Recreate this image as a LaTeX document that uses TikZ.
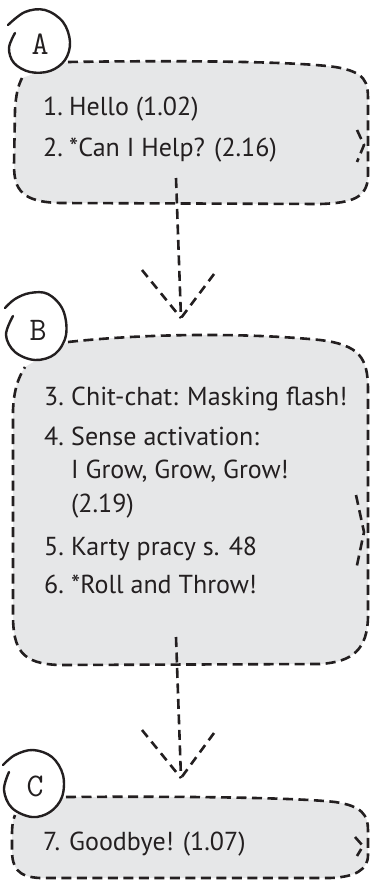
\documentclass[tikz,border=0pt]{standalone}
\usepackage{fontspec}
\setmainfont{PT Sans}
\definecolor{ink}{HTML}{231F20}
\definecolor{boxgray}{HTML}{E6E7E8}
\begin{document}
\begin{tikzpicture}[x=1pt,y=-1pt,
  outline/.style={draw=ink, line width=2.6pt, dash pattern=on 10pt off 5.5pt, line cap=butt},
  boxfill/.style={fill=boxgray},
  tagring/.style={draw=ink, line width=2.4pt, line cap=round, fill=white},
  itemtext/.style={anchor=base west, inner sep=0pt, text=ink, font=\fontsize{26}{33.5}\selectfont, align=left},
  lettertext/.style={text=ink, font=\ttfamily\fontsize{33}{33}\selectfont, inner sep=0pt},
  arm/.style={draw=ink, line width=2.6pt, dash pattern=on 9pt off 6pt}
]
\useasboundingbox (0,0) rectangle (372,880);

% ---------- Box A ----------
\fill[boxfill] (68,62) .. controls (200,60) and (300,62) .. (335,67) .. controls (366,72) and (368,82) .. (368,100) -- (368,175) .. controls (368,198) and (352,203) .. (320,204) -- (60,203) .. controls (22,202) and (14,190) .. (14,165) -- (15,110) .. controls (16,94) and (18,86) .. (22,78) -- cycle;
\draw[outline] (68,62) .. controls (200,60) and (300,62) .. (335,67) .. controls (366,72) and (368,82) .. (368,100) -- (368,175) .. controls (368,198) and (352,203) .. (320,204) -- (60,203) .. controls (22,202) and (14,190) .. (14,165) -- (15,110) .. controls (16,94) and (18,86) .. (22,78);
\draw[outline] (357,130) -- (364,145) -- (357,162);
\draw[tagring] plot[smooth, tension=0.6] coordinates {(15,33) (9,48) (14,63) (30,72) (50,71) (65,60) (70,42) (63,22) (45,10) (25,12) (8,25)};
\node[lettertext] (lA) at (40,44) {A};
\node[itemtext] (n1) at (43,116) {1.};
\node[itemtext] (t1) at (69,116) {Hello (1.02)};
\node[itemtext] (n2) at (43,157) {2.};
\node[itemtext] (t2) at (69,157) {*Can I Help? (2.16)};

% ---------- Box B ----------
\fill[boxfill] (68,342) .. controls (150,333) and (250,333) .. (320,340) .. controls (360,345) and (368,358) .. (368,390) -- (368,615) .. controls (368,650) and (352,662) .. (320,664) -- (60,665) .. controls (22,664) and (13,650) .. (13,615) -- (13,410) .. controls (14,390) and (18,378) .. (25,367) -- cycle;
\draw[outline] (68,342) .. controls (150,333) and (250,333) .. (320,340) .. controls (360,345) and (368,358) .. (368,390) -- (368,615) .. controls (368,650) and (352,662) .. (320,664) -- (60,665) .. controls (22,664) and (13,650) .. (13,615) -- (13,410) .. controls (14,390) and (18,378) .. (25,367);
\draw[outline] (356,495) -- (364,532) -- (356,570);
\draw[tagring] plot[smooth, tension=0.6] coordinates {(13,316) (6,335) (15,352) (35,360) (55,354) (66,335) (63,310) (48,294) (30,293) (15,299) (5,308)};
\node[lettertext] (lB) at (38,330) {B};
\node[itemtext] (n3) at (44,405) {3.};
\node[itemtext] (t3) at (71,405) {Chit-chat: Masking flash!};
\node[itemtext] (n4) at (44,445) {4.};
\node[itemtext] (t4) at (71,512) {Sense activation:\\I Grow, Grow, Grow!\\(2.19)};
\node[itemtext] (n5) at (44,555) {5.};
\node[itemtext] (t5) at (71,555) {Karty pracy s. 48};
\node[itemtext] (n6) at (44,593) {6.};
\node[itemtext] (t6) at (71,593) {*Roll and Throw!};

% ---------- Box C ----------
\fill[boxfill] (66,797) .. controls (200,796) and (300,798) .. (335,802) .. controls (362,806) and (368,815) .. (368,830) -- (368,855) .. controls (368,870) and (355,877) .. (330,878) -- (40,878) .. controls (18,877) and (12,868) .. (12,850) -- (12,835) .. controls (12,825) and (13,820) .. (15,815) -- cycle;
\draw[outline] (66,797) .. controls (200,796) and (300,798) .. (335,802) .. controls (362,806) and (368,815) .. (368,830) -- (368,855) .. controls (368,870) and (355,877) .. (330,878) -- (40,878) .. controls (18,877) and (12,868) .. (12,850) -- (12,835) .. controls (12,825) and (13,820) .. (15,815);
\draw[outline] (355,837) -- (363,846) -- (357,856);
\draw[tagring] plot[smooth, tension=0.6] coordinates {(9,772) (4,790) (12,808) (32,817) (50,812) (62,797) (63,775) (52,757) (33,750) (15,755) (3,765)};
\node[lettertext] (lC) at (35,786) {C};
\node[itemtext] (n7) at (43,850) {7.};
\node[itemtext] (t7) at (69,850) {Goodbye! (1.07)};

% ---------- Connectors ----------
\coordinate (outA) at (176,178);
\coordinate (tipB) at (181,318);
\coordinate (armBl) at (142,270);
\coordinate (armBr) at (214,274);
\draw[outline] (outA) -- (tipB);
\draw[arm] (armBl) -- (tipB);
\draw[arm] (armBr) -- (tipB);

\coordinate (outB) at (176,637);
\coordinate (tipC) at (181,778);
\coordinate (armCl) at (142,730);
\coordinate (armCr) at (214,733);
\draw[outline] (outB) -- (tipC);
\draw[arm] (armCl) -- (tipC);
\draw[arm] (armCr) -- (tipC);
\end{tikzpicture}
\end{document}
